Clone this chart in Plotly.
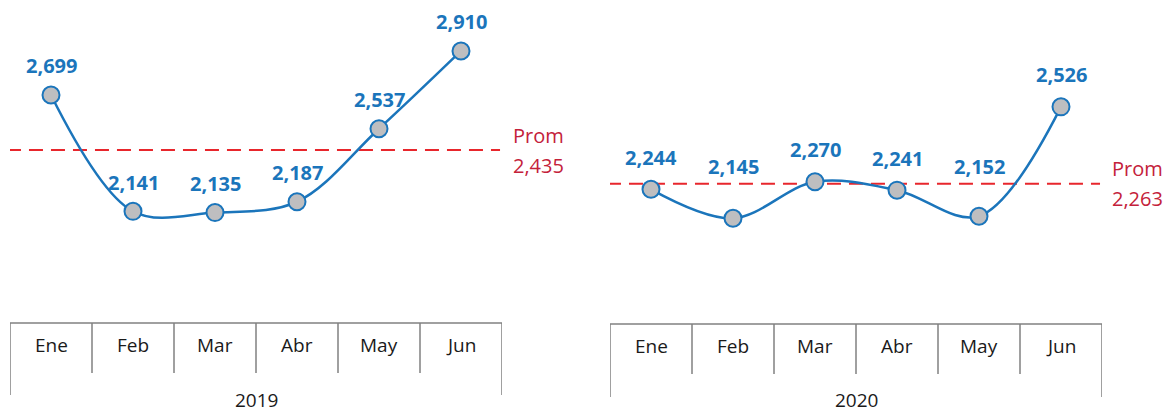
import plotly.graph_objects as go

months = ["Ene", "Feb", "Mar", "Abr", "May", "Jun"]
years = ["2019", "2020"]
values_2019 = [2699, 2141, 2135, 2187, 2537, 2910]
values_2020 = [2244, 2145, 2270, 2241, 2152, 2526]
avg_2019 = 2435
avg_2020 = 2263

# page has an 8px body margin; work in page pixels and convert
OFF = 8
W, H = 1173 - OFF, 415 - OFF
BLUE = "#1B75BB"
GRAY_FILL = "#BEBEC0"
RED_LINE = "#E8262C"
RED_TEXT = "#C4213A"
TABLE = "#808080"
FONT = "Open Sans"
PLOT_TOP, PLOT_BOT = 8, 320  # page px of y-domain

def px(x):
    return (x - OFF) / W

def py(y):
    return 1 - (y - OFF) / H

fig = go.Figure()

panels = [
    dict(vals=values_2019, avg=avg_2019, year=years[0], xa="x", ya="y",
         xdom=[px(10), px(502)], yrange=[1620, 3116], prom_x=511, table_top=323,
         div_bot=373, edge_bot=395, month_y=345, lab_shift=29),
    dict(vals=values_2020, avg=avg_2020, year=years[1], xa="x2", ya="y2",
         xdom=[px(610), px(1102)], yrange=[1797, 2864], prom_x=1110, table_top=324,
         div_bot=374, edge_bot=397, month_y=346, lab_shift=32),
]

shapes = []
annotations = []
for i, p in enumerate(panels):
    xa, ya = p["xa"], p["ya"]
    lo, hi = p["yrange"]
    ppu = (PLOT_BOT - PLOT_TOP) / (hi - lo)  # pixels per unit

    def to_px(v):
        return PLOT_TOP + (hi - v) * ppu

    fig.add_trace(go.Scatter(
        x=months, y=p["vals"], xaxis=xa, yaxis=ya, mode="lines+markers",
        line=dict(color=BLUE, width=2.5, shape="spline", smoothing=1.0),
        marker=dict(size=17, color=GRAY_FILL, line=dict(color=BLUE, width=2)),
        showlegend=False, hoverinfo="skip",
    ))
    # average dashed line
    shapes.append(dict(type="line", xref=xa, yref=ya, x0=-0.537, x1=5.476,
                       y0=p["avg"], y1=p["avg"],
                       line=dict(color=RED_LINE, width=2, dash="14px,8px"), layer="below"))
    annotations.append(dict(xref="paper", yref=ya, x=px(p["prom_x"]), y=p["avg"],
                            text="Prom", showarrow=False, xanchor="left", yanchor="middle",
                            yshift=15, font=dict(family=FONT, size=20, color=RED_TEXT)))
    annotations.append(dict(xref="paper", yref=ya, x=px(p["prom_x"]), y=p["avg"],
                            text=f"{p['avg']:,}", showarrow=False, xanchor="left", yanchor="middle",
                            yshift=-15, font=dict(family=FONT, size=20, color=RED_TEXT)))
    # data labels (lifted above the average line if they would touch it)
    line_px = to_px(p["avg"])
    for m, v in zip(months, p["vals"]):
        pt = to_px(v)
        lab = pt - p["lab_shift"]
        if abs(lab - line_px) < 17:
            lab = line_px - 17
        annotations.append(dict(xref=xa, yref=ya, x=m, y=v, text=f"<b>{v:,}</b>",
                                showarrow=False, yshift=pt - lab, yanchor="middle", borderpad=0,
                                font=dict(family=FONT, size=20, color=BLUE)))
        annotations.append(dict(xref=xa, yref="paper", x=m, y=py(p["month_y"]), text=m,
                                showarrow=False, yanchor="middle",
                                font=dict(family=FONT, size=19, color="#1a1a1a")))
    # table
    tt = py(p["table_top"])
    shapes.append(dict(type="line", xref=xa, yref="paper", x0=-0.5, x1=5.5, y0=tt, y1=tt,
                       line=dict(color=TABLE, width=1.5)))
    for k in range(7):
        bot = p["edge_bot"] if k in (0, 6) else p["div_bot"]
        shapes.append(dict(type="line", xref=xa, yref="paper", x0=k - 0.5, x1=k - 0.5,
                           y0=tt, y1=py(bot), line=dict(color=TABLE, width=1.5)))
    annotations.append(dict(xref=xa, yref="paper", x=2.5, y=0, text=p["year"],
                            showarrow=False, yanchor="bottom",
                            font=dict(family=FONT, size=19, color="#1a1a1a")))

ax_common = dict(showgrid=False, zeroline=False, showticklabels=False, showline=False, ticks="")
fig.update_layout(
    width=W, height=H,
    margin=dict(l=0, r=0, t=0, b=0),
    paper_bgcolor="white", plot_bgcolor="rgba(0,0,0,0)",
    xaxis=dict(domain=panels[0]["xdom"], range=[-0.5, 5.5], type="category", **ax_common),
    xaxis2=dict(domain=panels[1]["xdom"], range=[-0.5, 5.5], type="category", **ax_common),
    yaxis=dict(domain=[py(PLOT_BOT), py(PLOT_TOP)], range=panels[0]["yrange"], anchor="x", **ax_common),
    yaxis2=dict(domain=[py(PLOT_BOT), py(PLOT_TOP)], range=panels[1]["yrange"], anchor="x2", **ax_common),
    shapes=shapes, annotations=annotations,
)

fig.write_html("out.html")
